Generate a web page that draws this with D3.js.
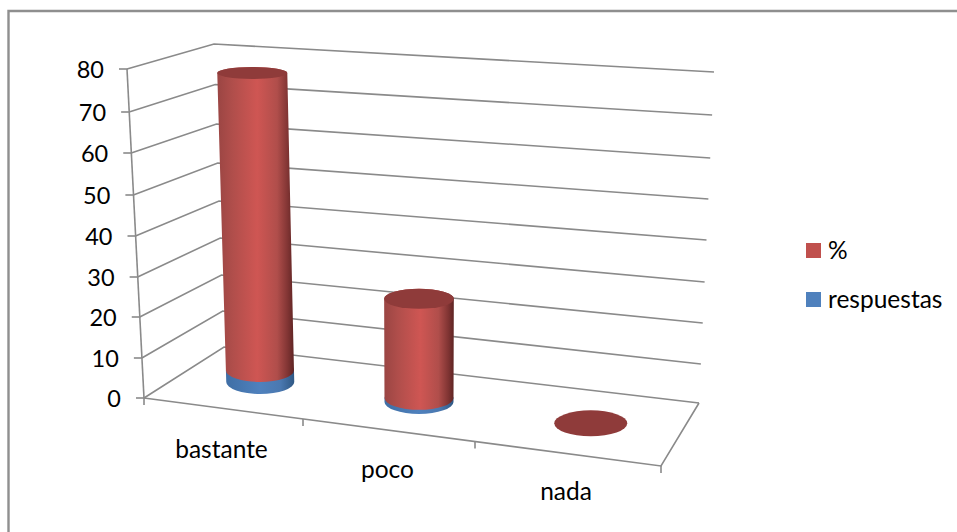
<!DOCTYPE html>
<html>
<head>
<meta charset="utf-8">
<script src="https://cdn.jsdelivr.net/npm/d3@7"></script>
<style>
  html, body { margin: 0; background: #fff; }
  svg { display: block; }
  text { font-family: Lato, "Open Sans", sans-serif; fill: #000; }
</style>
</head>
<body>
<svg width="957" height="532"></svg>
<script>
const categories = ["bastante", "poco", "nada"];
const respuestas = [3, 1, 0];
const porcentaje = [75, 25, 0];
const yTicks = [0, 10, 20, 30, 40, 50, 60, 70, 80];
const legendItems = ["%", "respuestas"];

const svg = d3.select("svg");
const gridColor = "#8a8a8a";

// frame, only the top and left edges show
svg.append("path")
    .attr("d", "M8.5,532V11H957")
    .attr("fill", "none")
    .attr("stroke", "#8f8f8f")
    .attr("stroke-width", 2.4);

// floor edges, category position -> screen x, screen x -> screen y
const frontX = d3.scaleLinear().domain([0, 1, 2, 3]).range([144, 303, 475, 661]);
const frontY = d3.scaleLinear().domain([144, 661]).range([398, 466]);
const backX = d3.scaleLinear().domain([0, 1, 2, 3]).range([224, 370, 528, 699]);
const backY = d3.scaleLinear().domain([224, 699]).range([347, 403]);

// wall corners, value -> screen
const cornerFront = {
    x: d3.scaleLinear().domain([0, 80]).range([144, 127]),
    y: d3.scaleLinear().domain(yTicks).range([398, 358, 317, 277, 236, 195, 153, 112, 69])
};
const cornerBack = {
    x: d3.scaleLinear().domain([0, 80]).range([224, 214]),
    y: d3.scaleLinear().domain(yTicks).range([347, 311, 275, 238, 201, 163, 124, 84.5, 44])
};
const cornerRight = {
    x: d3.scaleLinear().domain([0, 80]).range([699, 714]),
    y: d3.scaleLinear().domain(yTicks).range([403, 364, 323, 282, 240, 199, 158, 115, 72])
};

const pt = (c, v) => [c.x(v), c.y(v)];
const line = d3.line();

const grid = svg.append("g").attr("fill", "none").attr("stroke", gridColor).attr("stroke-width", 1.6);

grid.selectAll("path.wall")
    .data(yTicks)
    .join("path")
    .attr("class", "wall")
    .attr("d", v => line([pt(cornerFront, v), pt(cornerBack, v), pt(cornerRight, v)]));

// vertical axis and the floor outline
grid.append("path").attr("d", line([pt(cornerFront, 0), pt(cornerFront, 80)]));
grid.append("path").attr("d", line([[frontX(0), frontY(frontX(0))], [frontX(3), frontY(frontX(3))], [backX(3), backY(backX(3))]]));

grid.selectAll("path.ytick")
    .data(yTicks)
    .join("path")
    .attr("class", "ytick")
    .attr("d", v => line([[cornerFront.x(v) - 8, cornerFront.y(v)], pt(cornerFront, v)]));

grid.selectAll("path.xtick")
    .data([0, 1, 2, 3])
    .join("path")
    .attr("class", "xtick")
    .attr("d", i => line([[frontX(i), frontY(frontX(i))], [frontX(i), frontY(frontX(i)) + 7]]));

svg.append("g")
    .selectAll("text")
    .data(yTicks)
    .join("text")
    .attr("x", v => cornerFront.x(v) - 23)
    .attr("y", v => cornerFront.y(v) + 9)
    .attr("text-anchor", "end")
    .attr("font-size", 23.5)
    .text(d => d);

// cylinder gradients
const defs = svg.append("defs");
function cylGradient(id, stops) {
    const g = defs.append("linearGradient").attr("id", id);
    stops.forEach(s => g.append("stop").attr("offset", s[0]).attr("stop-color", s[1]));
}
cylGradient("redBody", [[0, "#9a4543"], [0.2, "#b04e4b"], [0.52, "#cf5653"], [0.78, "#b04e4b"], [0.92, "#803433"], [1, "#5e2423"]]);
cylGradient("blueBody", [[0, "#3f6ea5"], [0.5, "#4f81bd"], [0.8, "#4a78b0"], [1, "#2f5884"]]);

// centre of a bar on the floor, half way through the depth
const baseOf = i => {
    const fx = frontX(i + 0.5), bx = backX(i + 0.5);
    return { x: (fx + bx) / 2, y: (frontY(fx) + backY(bx)) / 2 };
};

const hScale = d3.scaleLinear().domain([0, 80]).range([0, 317]);
const rxBase = [34, 34.5, 36.5];
const ryAt = (i, v) => (i === 2 ? 13 : 12) - 0.077 * v;
const rxAt = (i, v) => rxBase[i] + 0.013 * v;
const ringAt = (i, v) => {
    const b = baseOf(i);
    return { x: b.x + (b.x - 420) * 0.00064 * v, y: b.y - hScale(v), rx: rxAt(i, v), ry: ryAt(i, v) };
};

function segment(i, v0, v1) {
    const a = ringAt(i, v0), b = ringAt(i, v1);
    return `M${a.x - a.rx},${a.y}L${b.x - b.rx},${b.y}A${b.rx},${b.ry} 0 0 1 ${b.x + b.rx},${b.y}` +
        `L${a.x + a.rx},${a.y}A${a.rx},${a.ry} 0 0 1 ${a.x - a.rx},${a.y}Z`;
}

const bars = svg.append("g");
categories.forEach((c, i) => {
    const r = respuestas[i], p = porcentaje[i];
    if (r > 0) bars.append("path").attr("d", segment(i, 0, r)).attr("fill", "url(#blueBody)");
    if (p > 0) bars.append("path").attr("d", segment(i, r, r + p)).attr("fill", "url(#redBody)");
    const top = ringAt(i, r + p);
    bars.append("ellipse")
        .attr("cx", top.x).attr("cy", top.y)
        .attr("rx", top.rx).attr("ry", top.ry)
        .attr("fill", "#8f3b3a");
});

// category labels
const labelPos = [[221.5, 457.5], [387.5, 477.5], [566, 499.5]];
svg.append("g")
    .selectAll("text")
    .data(categories)
    .join("text")
    .attr("x", (d, i) => labelPos[i][0])
    .attr("y", (d, i) => labelPos[i][1])
    .attr("text-anchor", "middle")
    .attr("font-size", 24.5)
    .text(d => d);

// legend
const legendColor = d3.scaleOrdinal().domain(legendItems).range(["#c0504d", "#4f81bd"]);
const legendY = d3.scalePoint().domain(legendItems).range([243, 292]);
const legend = svg.append("g");
legend.selectAll("rect")
    .data(legendItems)
    .join("rect")
    .attr("x", 806)
    .attr("y", d => legendY(d))
    .attr("width", 15).attr("height", 15)
    .attr("fill", d => legendColor(d));
legend.selectAll("text")
    .data(legendItems)
    .join("text")
    .attr("x", 828)
    .attr("y", d => legendY(d) + 16)
    .attr("font-size", 24.5)
    .text(d => d);
</script>
</body>
</html>
